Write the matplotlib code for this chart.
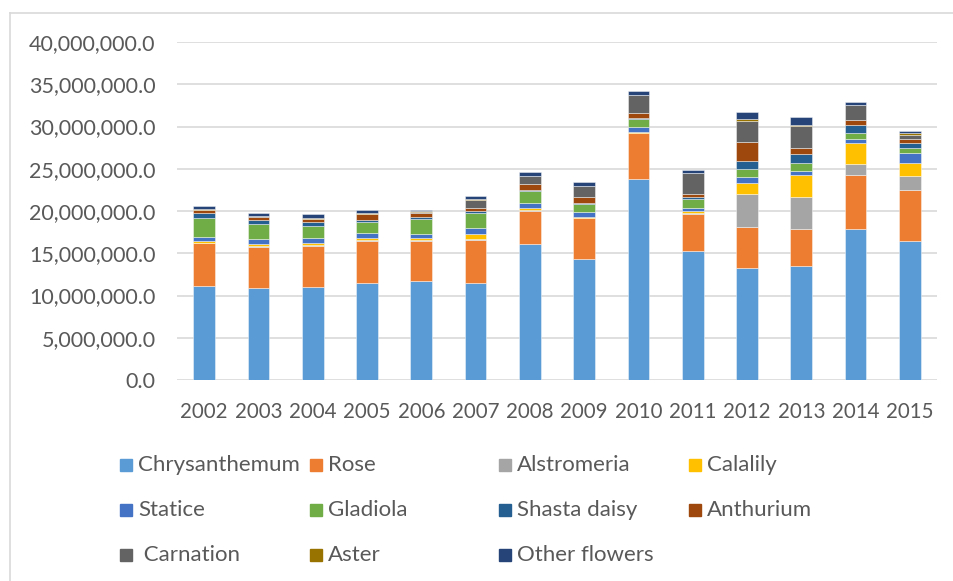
import numpy as np
import matplotlib.pyplot as plt
from matplotlib.patches import Rectangle
from matplotlib.lines import Line2D

plt.rcParams['font.family'] = ['Lato', 'DejaVu Sans']

years = ['2002', '2003', '2004', '2005', '2006', '2007', '2008',
         '2009', '2010', '2011', '2012', '2013', '2014', '2015']

# values in millions of stems
chrysanthemum = [11.16, 10.89, 11.00, 11.44, 11.72, 11.48, 16.13, 14.36, 23.75, 15.27, 13.21, 13.52, 17.83, 16.45]
rose = [5.00, 4.89, 4.90, 5.00, 4.77, 5.13, 3.90, 4.77, 5.44, 4.33, 4.90, 4.31, 6.39, 6.04]
alstromeria = [0.05, 0.05, 0.05, 0.08, 0.05, 0.05, 0.05, 0.04, 0.05, 0.20, 3.86, 3.79, 1.30, 1.65]
calalily = [0.23, 0.30, 0.30, 0.24, 0.25, 0.66, 0.27, 0.12, 0.15, 0.20, 1.30, 2.68, 2.48, 1.54]
statice = [0.47, 0.55, 0.59, 0.59, 0.48, 0.64, 0.54, 0.55, 0.51, 0.40, 0.79, 0.47, 0.48, 1.15]
gladiola = [2.28, 1.81, 1.42, 1.38, 1.77, 1.80, 1.50, 0.99, 0.99, 0.98, 0.91, 0.87, 0.71, 0.59]
shasta_daisy = [0.60, 0.46, 0.40, 0.26, 0.20, 0.20, 0.12, 0.08, 0.11, 0.24, 0.95, 1.07, 0.95, 0.58]
anthurium = [0.30, 0.30, 0.39, 0.60, 0.55, 0.44, 0.64, 0.71, 0.56, 0.35, 2.20, 0.71, 0.63, 0.52]
carnation = [0.08, 0.10, 0.05, 0.08, 0.12, 0.94, 0.98, 1.34, 2.17, 2.48, 2.57, 2.68, 1.73, 0.43]
aster = [0.04, 0.04, 0.04, 0.04, 0.04, 0.05, 0.05, 0.05, 0.05, 0.05, 0.20, 0.12, 0.08, 0.28]
other_flowers = [0.40, 0.32, 0.45, 0.45, 0.20, 0.40, 0.47, 0.47, 0.47, 0.40, 0.79, 0.90, 0.30, 0.24]

names = ['Chrysanthemum', 'Rose', 'Alstromeria', 'Calalily', 'Statice', 'Gladiola',
         'Shasta daisy', 'Anthurium', ' Carnation', 'Aster', 'Other flowers']
series = [chrysanthemum, rose, alstromeria, calalily, statice, gladiola,
          shasta_daisy, anthurium, carnation, aster, other_flowers]
colors = ['#5B9BD5', '#ED7D31', '#A5A5A5', '#FFC000', '#4472C4', '#70AD47',
          '#255E91', '#9E480E', '#636363', '#997300', '#264478']

W, H = 954, 581
fig = plt.figure(figsize=(W / 100, H / 100), dpi=100)
ax = fig.add_axes([177 / W, 1 - 380 / H, 760 / W, 338 / H])

x = np.arange(len(years))
bottom = np.zeros(len(years))
for vals, c in zip(series, colors):
    v = np.array(vals) * 1e6
    ax.bar(x, v, 0.4, bottom=bottom, color=c, edgecolor=(1, 1, 1, 0.5), linewidth=0.6, zorder=3)
    bottom += v

ax.set_xlim(-0.5, len(years) - 0.5)
ax.set_ylim(0, 40e6)
ax.set_yticks(np.arange(0, 40e6 + 1, 5e6))
ax.set_yticklabels([f'{t:,.1f}' for t in np.arange(0, 40e6 + 1, 5e6)])
ax.set_xticks(x)
ax.set_xticklabels(years)
ax.tick_params(axis='both', length=0, labelcolor='#595959')
ax.tick_params(axis='y', pad=15.5, labelsize=15.5)
ax.tick_params(axis='x', pad=16, labelsize=14.8)
ax.grid(axis='y', color='#d9d9d9', linewidth=1.2, zorder=0)
ax.set_axisbelow(True)
for s in ax.spines.values():
    s.set_visible(False)

# chart border (left and top edges visible)
fig.add_artist(Line2D([10 / W, 10 / W], [0, 1 - 13 / H], transform=fig.transFigure, color='#d9d9d9', lw=1.2))
fig.add_artist(Line2D([10 / W, 1], [1 - 13 / H, 1 - 13 / H], transform=fig.transFigure, color='#d9d9d9', lw=1.2))

# legend laid out in a 4-column grid like the original
col_x = [120, 310, 499, 689]
row_y = [465, 510, 555]
for i, (name, c) in enumerate(zip(names, colors)):
    px = col_x[i % 4]
    py = row_y[i // 4]
    fig.add_artist(Rectangle((px / W, 1 - (py + 6) / H), 12 / W, 12 / H,
                             transform=fig.transFigure, color=c))
    fig.text((px + 18) / W, 1 - py / H, name, fontsize=16, color='#595959',
             va='center', ha='left')

fig.savefig('out.png', dpi=100)
